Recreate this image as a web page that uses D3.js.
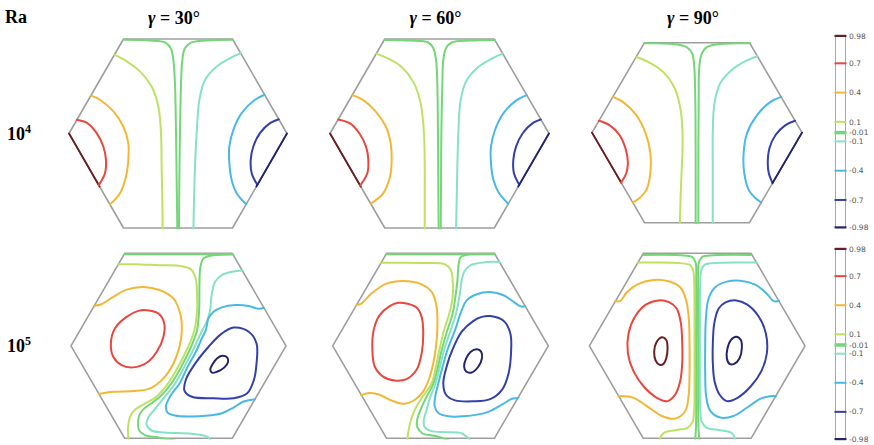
<!DOCTYPE html>
<html>
<head>
<meta charset="utf-8">
<script src="https://cdn.jsdelivr.net/npm/d3@7"></script>
<style>
  body { margin: 0; background: #fff; }
  svg { display: block; }
</style>
</head>
<body>
<svg id="chart" width="874" height="445"></svg>
<script>
// Isotherm levels (dimensionless temperature) and their legend labels
const levels = [0.98, 0.7, 0.4, 0.1, -0.01, -0.1, -0.4, -0.7, -0.98];
const levelLabels = ["0.98", "0.7", "0.4", "0.1", "-0.01", "-0.1", "-0.4", "-0.7", "-0.98"];
const angleLabels = ["30°", "60°", "90°"];
const raExponents = ["4", "5"];

// Isotherms for each case, points in unit-hexagon coordinates (side = 1, centre at 0,0)
const ra4_g30 = [
  { level: 0.98, pts: [[-1, 0], [-0.72, -0.485]] },
  { level: 0.7, pts: [[-0.93, 0.125], [-0.832, 0.095], [-0.746, 0.003], [-0.685, -0.119], [-0.661, -0.242], [-0.670, -0.364], [-0.728, -0.475]] },
  { level: 0.4, pts: [[-0.80, 0.349], [-0.716, 0.309], [-0.593, 0.202], [-0.502, 0.064], [-0.456, -0.089], [-0.456, -0.242], [-0.477, -0.394], [-0.532, -0.547], [-0.625, -0.650]] },
  { level: 0.1, pts: [[-0.583, 0.722], [-0.471, 0.661], [-0.349, 0.569], [-0.242, 0.431], [-0.180, 0.248], [-0.156, 0.003], [-0.150, -0.303], [-0.144, -0.609], [-0.141, -0.88]] },
  { level: -0.01, pts: [[-0.502, 0.859], [-0.257, 0.853], [-0.119, 0.835], [-0.067, 0.783], [-0.043, 0.676], [-0.028, 0.462], [-0.018, 0.003], [-0.012, -0.456], [-0.006, -0.88]] },
  { level: -0.01, pts: [[0.502, 0.859], [0.263, 0.853], [0.125, 0.835], [0.064, 0.783], [0.040, 0.676], [0.028, 0.462], [0.018, 0.003], [0.012, -0.456], [0.009, -0.88]] },
  { level: -0.1, pts: [[0.574, 0.737], [0.477, 0.691], [0.355, 0.615], [0.248, 0.492], [0.196, 0.309], [0.171, 0.003], [0.156, -0.303], [0.147, -0.609], [0.141, -0.88]] },
  { level: -0.4, pts: [[0.795, 0.355], [0.706, 0.309], [0.584, 0.187], [0.508, 0.034], [0.471, -0.119], [0.471, -0.272], [0.492, -0.425], [0.538, -0.547], [0.626, -0.648]] },
  { level: -0.7, pts: [[0.925, 0.131], [0.844, 0.095], [0.752, 0.003], [0.691, -0.119], [0.667, -0.242], [0.676, -0.364], [0.728, -0.472]] },
  { level: -0.98, pts: [[1, 0], [0.72, -0.485]] }
];

const ra4_g60 = [
  { level: 0.98, pts: [[-1, 0], [-0.72, -0.485]] },
  { level: 0.7, pts: [[-0.926, 0.129], [-0.817, 0.093], [-0.732, 0.002], [-0.671, -0.120], [-0.650, -0.242], [-0.659, -0.364], [-0.725, -0.477]] },
  { level: 0.4, pts: [[-0.797, 0.352], [-0.696, 0.306], [-0.580, 0.199], [-0.489, 0.062], [-0.446, -0.090], [-0.437, -0.242], [-0.452, -0.394], [-0.513, -0.547], [-0.628, -0.644]] },
  { level: 0.1, pts: [[-0.577, 0.732], [-0.467, 0.686], [-0.345, 0.610], [-0.239, 0.473], [-0.172, 0.276], [-0.142, 0.002], [-0.135, -0.303], [-0.135, -0.607], [-0.135, -0.88]] },
  { level: -0.01, pts: [[-0.498, 0.858], [-0.269, 0.852], [-0.102, 0.834], [-0.056, 0.782], [-0.032, 0.676], [-0.020, 0.458], [-0.014, 0.002], [-0.011, -0.455], [-0.008, -0.88]] },
  { level: -0.01, pts: [[0.507, 0.858], [0.279, 0.852], [0.111, 0.834], [0.059, 0.782], [0.035, 0.676], [0.026, 0.458], [0.017, 0.002], [0.014, -0.455], [0.011, -0.88]] },
  { level: -0.1, pts: [[0.577, 0.732], [0.476, 0.686], [0.355, 0.610], [0.248, 0.488], [0.193, 0.306], [0.172, 0.002], [0.163, -0.303], [0.157, -0.607], [0.151, -0.88]] },
  { level: -0.4, pts: [[0.797, 0.352], [0.705, 0.306], [0.583, 0.184], [0.507, 0.032], [0.470, -0.120], [0.470, -0.272], [0.492, -0.424], [0.543, -0.546], [0.628, -0.644]] },
  { level: -0.7, pts: [[0.925, 0.129], [0.857, 0.099], [0.760, 0.002], [0.699, -0.120], [0.674, -0.242], [0.680, -0.364], [0.729, -0.47]] },
  { level: -0.98, pts: [[1, 0], [0.72, -0.485]] }
];

const ra4_g90 = [
  { level: 0.98, pts: [[-1, 0], [-0.722, -0.481]] },
  { level: 0.7, pts: [[-0.934, 0.115], [-0.834, 0.073], [-0.738, -0.022], [-0.681, -0.150], [-0.658, -0.294], [-0.674, -0.390], [-0.723, -0.48]] },
  { level: 0.4, pts: [[-0.801, 0.345], [-0.706, 0.297], [-0.578, 0.169], [-0.489, -0.006], [-0.444, -0.198], [-0.444, -0.390], [-0.482, -0.550], [-0.546, -0.629], [-0.612, -0.672]] },
  { level: 0.1, pts: [[-0.580, 0.728], [-0.466, 0.681], [-0.323, 0.585], [-0.211, 0.425], [-0.153, 0.201], [-0.137, -0.070], [-0.147, -0.390], [-0.157, -0.645], [-0.163, -0.88]] },
  { level: -0.01, pts: [[-0.498, 0.86], [-0.259, 0.856], [-0.099, 0.824], [-0.045, 0.760], [-0.026, 0.633], [-0.016, 0.313], [-0.013, -0.166], [-0.013, -0.88]] },
  { level: -0.01, pts: [[0.508, 0.86], [0.252, 0.856], [0.093, 0.824], [0.045, 0.760], [0.022, 0.633], [0.016, 0.313], [0.013, -0.166], [0.013, -0.88]] },
  { level: -0.1, pts: [[0.576, 0.735], [0.476, 0.696], [0.348, 0.617], [0.220, 0.473], [0.166, 0.281], [0.150, -0.006], [0.150, -0.326], [0.150, -0.645], [0.150, -0.88]] },
  { level: -0.4, pts: [[0.801, 0.345], [0.700, 0.297], [0.572, 0.169], [0.476, -0.006], [0.444, -0.198], [0.450, -0.390], [0.492, -0.550], [0.556, -0.629], [0.612, -0.672]] },
  { level: -0.7, pts: [[0.934, 0.115], [0.843, 0.073], [0.748, -0.022], [0.690, -0.150], [0.674, -0.294], [0.684, -0.390], [0.72, -0.485]] },
  { level: -0.98, pts: [[1, 0], [0.72, -0.485]] }
];

const ra5_g30 = [
  { level: 0.7, closed: true, pts: [[-0.296, 0.333], [-0.187, 0.302], [-0.134, 0.215], [-0.140, 0.084], [-0.202, -0.056], [-0.296, -0.159], [-0.421, -0.202], [-0.530, -0.181], [-0.607, -0.103], [-0.629, 0.022], [-0.592, 0.162], [-0.483, 0.271], [-0.374, 0.327]] },
  { level: 0.4, pts: [[-0.785, 0.375], [-0.717, 0.389], [-0.607, 0.458], [-0.483, 0.526], [-0.327, 0.551], [-0.171, 0.520], [-0.047, 0.442], [0.016, 0.302], [0.031, 0.146], [0.009, -0.009], [-0.047, -0.165], [-0.140, -0.305], [-0.265, -0.399], [-0.421, -0.424], [-0.607, -0.430], [-0.745, -0.452]] },
  { level: 0.1, pts: [[-0.56, 0.764], [-0.407, 0.764], [-0.188, 0.755], [0.030, 0.746], [0.117, 0.715], [0.160, 0.631], [0.173, 0.459], [0.173, 0.335], [0.148, 0.148], [0.117, 0.054], [0.076, -0.039], [-0.002, -0.195], [-0.095, -0.350], [-0.204, -0.475], [-0.407, -0.600], [-0.450, -0.662], [-0.469, -0.771], [-0.463, -0.911]] },
  { level: -0.01, pts: [[-0.5, 0.858], [0.5, 0.858]] },
  { level: -0.01, pts: [[0.528, 0.858], [0.310, 0.845], [0.232, 0.817], [0.204, 0.740], [0.195, 0.584], [0.192, 0.335], [0.173, 0.148], [0.142, 0.054], [0.104, -0.039], [0.026, -0.195], [-0.064, -0.350], [-0.170, -0.475], [-0.332, -0.600], [-0.369, -0.662], [-0.375, -0.709], [-0.369, -0.787], [-0.313, -0.837], [-0.188, -0.858], [-0.033, -0.887]] },
  { level: -0.1, pts: [[0.60, 0.708], [0.497, 0.693], [0.403, 0.662], [0.341, 0.599], [0.310, 0.490], [0.294, 0.335], [0.263, 0.226], [0.223, 0.148], [0.179, 0.054], [0.136, -0.039], [0.055, -0.195], [-0.030, -0.350], [-0.126, -0.475], [-0.226, -0.600], [-0.282, -0.672], [-0.297, -0.740], [-0.251, -0.793], [-0.126, -0.812], [0.123, -0.824], [0.263, -0.849], [0.316, -0.905]] },
  { level: -0.4, pts: [[0.795, 0.356], [0.746, 0.346], [0.653, 0.372], [0.528, 0.381], [0.403, 0.360], [0.326, 0.319], [0.279, 0.257], [0.254, 0.148], [0.210, 0.054], [0.170, -0.039], [0.086, -0.195], [0.011, -0.350], [-0.079, -0.475], [-0.117, -0.569], [-0.101, -0.625], [-0.033, -0.653], [0.092, -0.662], [0.279, -0.653], [0.403, -0.631], [0.512, -0.578], [0.606, -0.522], [0.715, -0.500]] },
  { level: -0.7, closed: true, pts: [[0.514, 0.171], [0.654, 0.131], [0.726, 0.022], [0.726, -0.165], [0.701, -0.321], [0.639, -0.445], [0.514, -0.492], [0.327, -0.492], [0.125, -0.477], [0.056, -0.421], [0.069, -0.315], [0.156, -0.165], [0.280, -0.009], [0.396, 0.109]] },
  { level: -0.98, closed: true, pts: [[0.405, -0.093], [0.452, -0.109], [0.461, -0.150], [0.427, -0.202], [0.358, -0.243], [0.312, -0.252], [0.296, -0.221], [0.321, -0.165], [0.358, -0.118]] }
];

const ra5_g60 = [
  { level: 0.7, closed: true, pts: [[-0.315, 0.396], [-0.222, 0.358], [-0.175, 0.271], [-0.160, 0.116], [-0.175, -0.070], [-0.222, -0.225], [-0.315, -0.312], [-0.424, -0.325], [-0.533, -0.288], [-0.610, -0.194], [-0.632, -0.039], [-0.620, 0.147], [-0.564, 0.287], [-0.471, 0.371], [-0.393, 0.402]] },
  { level: 0.4, pts: [[-0.78, 0.385], [-0.734, 0.396], [-0.641, 0.489], [-0.502, 0.582], [-0.346, 0.607], [-0.191, 0.582], [-0.082, 0.504], [-0.036, 0.365], [-0.030, 0.147], [-0.042, -0.008], [-0.067, -0.163], [-0.109, -0.318], [-0.160, -0.427], [-0.237, -0.505], [-0.346, -0.543], [-0.471, -0.505], [-0.564, -0.458], [-0.657, -0.443], [-0.745, -0.465]] },
  { level: 0.1, pts: [[-0.56, 0.778], [-0.377, 0.778], [-0.129, 0.775], [0.042, 0.762], [0.095, 0.712], [0.113, 0.613], [0.113, 0.458], [0.082, 0.303], [0.033, 0.147], [-0.011, -0.039], [-0.042, -0.194], [-0.082, -0.350], [-0.175, -0.489], [-0.238, -0.598], [-0.278, -0.707], [-0.300, -0.815], [-0.309, -0.893]] },
  { level: -0.01, pts: [[-0.5, 0.858], [0.5, 0.858]] },
  { level: -0.01, pts: [[0.508, 0.861], [0.244, 0.852], [0.188, 0.830], [0.169, 0.768], [0.157, 0.613], [0.138, 0.458], [0.113, 0.303], [0.064, 0.147], [0.011, -0.039], [-0.023, -0.194], [-0.064, -0.350], [-0.135, -0.489], [-0.185, -0.598], [-0.216, -0.691], [-0.216, -0.759], [-0.166, -0.821], [-0.036, -0.846], [0.073, -0.884]] },
  { level: -0.1, pts: [[0.56, 0.784], [0.430, 0.784], [0.275, 0.753], [0.219, 0.691], [0.197, 0.613], [0.175, 0.458], [0.144, 0.303], [0.095, 0.147], [0.033, -0.039], [-0.005, -0.194], [-0.045, -0.350], [-0.098, -0.489], [-0.129, -0.598], [-0.154, -0.691], [-0.148, -0.759], [-0.092, -0.797], [0.057, -0.809], [0.197, -0.821], [0.275, -0.884]] },
  { level: -0.4, pts: [[0.787, 0.371], [0.741, 0.371], [0.679, 0.411], [0.585, 0.473], [0.461, 0.504], [0.337, 0.483], [0.244, 0.427], [0.197, 0.333], [0.135, 0.147], [0.064, -0.039], [0.020, -0.194], [-0.020, -0.350], [-0.051, -0.489], [-0.054, -0.567], [-0.020, -0.629], [0.073, -0.660], [0.213, -0.660], [0.430, -0.623], [0.585, -0.542], [0.663, -0.496], [0.747, -0.489]] },
  { level: -0.7, closed: true, pts: [[0.461, 0.278], [0.585, 0.234], [0.648, 0.116], [0.654, -0.070], [0.632, -0.256], [0.570, -0.412], [0.461, -0.499], [0.306, -0.520], [0.135, -0.511], [0.051, -0.458], [0.026, -0.350], [0.057, -0.194], [0.110, -0.039], [0.197, 0.132], [0.306, 0.234], [0.384, 0.271]] },
  { level: -0.98, closed: true, pts: [[0.337, -0.033], [0.377, -0.055], [0.384, -0.117], [0.352, -0.194], [0.290, -0.250], [0.238, -0.241], [0.219, -0.194], [0.238, -0.117], [0.281, -0.055]] }
];

const ra5_g90 = [
  { level: 0.98, closed: true, pts: [[-0.328, 0.079], [-0.287, 0.054], [-0.275, -0.023], [-0.287, -0.116], [-0.312, -0.169], [-0.349, -0.178], [-0.386, -0.138], [-0.399, -0.054], [-0.380, 0.029]] },
  { level: 0.7, closed: true, pts: [[-0.359, 0.425], [-0.257, 0.406], [-0.189, 0.347], [-0.151, 0.208], [-0.139, 0.023], [-0.139, -0.162], [-0.158, -0.332], [-0.204, -0.456], [-0.275, -0.518], [-0.374, -0.487], [-0.498, -0.379], [-0.590, -0.240], [-0.643, -0.070], [-0.637, 0.116], [-0.575, 0.277], [-0.473, 0.388]] },
  { level: 0.4, pts: [[-0.76, 0.419], [-0.714, 0.419], [-0.652, 0.502], [-0.544, 0.579], [-0.405, 0.616], [-0.266, 0.604], [-0.158, 0.548], [-0.102, 0.425], [-0.077, 0.239], [-0.071, -0.008], [-0.071, -0.255], [-0.080, -0.472], [-0.111, -0.610], [-0.204, -0.682], [-0.328, -0.657], [-0.467, -0.564], [-0.590, -0.487], [-0.683, -0.472], [-0.739, -0.472]] },
  { level: 0.1, pts: [[-0.56, 0.780], [-0.405, 0.780], [-0.158, 0.774], [-0.065, 0.755], [-0.037, 0.703], [-0.028, 0.579], [-0.025, 0.301], [-0.025, -0.008], [-0.025, -0.317], [-0.028, -0.595], [-0.043, -0.713], [-0.090, -0.768], [-0.204, -0.790], [-0.312, -0.817], [-0.349, -0.873]] },
  { level: -0.01, pts: [[-0.498, 0.851], [-0.158, 0.848], [-0.049, 0.833], [-0.015, 0.780], [-0.009, 0.610], [-0.009, -0.008], [-0.009, -0.626], [-0.012, -0.781], [-0.019, -0.873]] },
  { level: -0.01, pts: [[0.498, 0.851], [0.151, 0.848], [0.046, 0.833], [0.015, 0.780], [0.009, 0.610], [0.009, -0.008], [0.009, -0.626], [0.012, -0.781], [0.019, -0.873]] },
  { level: -0.1, pts: [[0.56, 0.780], [0.399, 0.780], [0.151, 0.774], [0.065, 0.755], [0.037, 0.703], [0.028, 0.579], [0.025, 0.301], [0.025, -0.008], [0.025, -0.317], [0.028, -0.595], [0.043, -0.713], [0.090, -0.768], [0.213, -0.790], [0.321, -0.817], [0.352, -0.873]] },
  { level: -0.4, pts: [[0.76, 0.419], [0.708, 0.419], [0.646, 0.487], [0.538, 0.573], [0.399, 0.610], [0.275, 0.601], [0.167, 0.548], [0.105, 0.440], [0.080, 0.239], [0.074, -0.008], [0.074, -0.255], [0.083, -0.472], [0.121, -0.610], [0.213, -0.672], [0.337, -0.657], [0.461, -0.580], [0.584, -0.497], [0.677, -0.472], [0.739, -0.472]] },
  { level: -0.7, closed: true, pts: [[0.362, 0.425], [0.461, 0.388], [0.569, 0.277], [0.637, 0.116], [0.646, -0.070], [0.594, -0.240], [0.498, -0.379], [0.374, -0.487], [0.275, -0.518], [0.207, -0.456], [0.161, -0.332], [0.145, -0.162], [0.145, 0.023], [0.158, 0.208], [0.198, 0.347], [0.263, 0.406]] },
  { level: -0.98, closed: true, pts: [[0.362, 0.085], [0.405, 0.054], [0.414, -0.023], [0.393, -0.116], [0.343, -0.169], [0.300, -0.169], [0.275, -0.116], [0.281, -0.023], [0.312, 0.054]] }
];

// Panel placement (pixels)
const panels = [
  { data: ra4_g30, cx: 178.0, cy: 133.5, sx: 109.0, hh: 94.5 },
  { data: ra4_g60, cx: 439.5, cy: 133.5, sx: 109.5, hh: 94.5 },
  { data: ra4_g90, cx: 697.0, cy: 132.7, sx: 105.0, hh: 90.0 },
  { data: ra5_g30, cx: 178.5, cy: 345.8, sx: 107.5, hh: 92.5 },
  { data: ra5_g60, cx: 440.5, cy: 345.8, sx: 107.8, hh: 92.5 },
  { data: ra5_g90, cx: 697.2, cy: 345.8, sx: 107.8, hh: 92.5 }
];

const palette = ["#6a1f22", "#e8463e", "#f3b736", "#bde262", "#74d677", "#86e2c4", "#4ab8e4", "#3340aa", "#22246e"];
const colour = d3.scaleOrdinal(levels, palette);

const svg = d3.select("#chart");
const H = Math.sqrt(3) / 2;
const hexUnit = [[-1, 0], [-0.5, H], [0.5, H], [1, 0], [0.5, -H], [-0.5, -H]];

panels.forEach((p, i) => {
  const x = d3.scaleLinear().domain([-1, 1]).range([p.cx - p.sx, p.cx + p.sx]);
  const y = d3.scaleLinear().domain([-H, H]).range([p.cy + p.hh, p.cy - p.hh]);
  const g = svg.append("g");

  const clipId = "hexclip" + i;
  g.append("clipPath").attr("id", clipId)
    .append("polygon")
    .attr("points", hexUnit.map(d => [x(d[0] * 1.012), y(d[1] * 1.012)].join(",")).join(" "));

  g.append("polygon")
    .attr("points", hexUnit.map(d => [x(d[0]), y(d[1])].join(",")).join(" "))
    .attr("fill", "none")
    .attr("stroke", "#9e9e9e")
    .attr("stroke-width", 1.6)
    .attr("stroke-linejoin", "round");

  const open = d3.line().x(d => x(d[0])).y(d => y(d[1])).curve(d3.curveCatmullRom.alpha(0.5));
  const closed = d3.line().x(d => x(d[0])).y(d => y(d[1])).curve(d3.curveCatmullRomClosed.alpha(0.5));

  g.append("g").attr("clip-path", `url(#${clipId})`)
    .selectAll("path")
    .data(p.data)
    .join("path")
    .attr("d", d => (d.closed ? closed : open)(d.pts))
    .attr("fill", "none")
    .attr("stroke", d => colour(d.level))
    .attr("stroke-width", 2.0)
    .attr("stroke-linecap", "round")
    .attr("stroke-linejoin", "round");
});

// Headings
const serif = "'Liberation Serif', 'Times New Roman', serif";
svg.append("text").attr("x", 5).attr("y", 23)
  .attr("font-family", serif).attr("font-weight", "bold").attr("font-size", 18)
  .text("Ra");

angleLabels.forEach((a, i) => {
  const t = svg.append("text")
    .attr("x", panels[i].cx - 4).attr("y", 24)
    .attr("text-anchor", "middle")
    .attr("font-family", serif).attr("font-weight", "bold").attr("font-size", 18);
  t.append("tspan").attr("font-style", "italic").text("γ");
  t.append("tspan").text(" = " + a);
});

raExponents.forEach((e, i) => {
  const t = svg.append("text")
    .attr("x", 7).attr("y", i === 0 ? 140 : 351.5)
    .attr("font-family", serif).attr("font-weight", "bold").attr("font-size", 18);
  t.append("tspan").text("10");
  t.append("tspan").attr("font-size", 12).attr("dy", -7).text(e);
});

// Legend bars, one per row
const bars = [{ top: 36, bottom: 227.3 }, { top: 249, bottom: 439 }];
bars.forEach(b => {
  const yb = d3.scaleLinear().domain([0.98, -0.98]).range([b.top, b.bottom]);
  const lg = svg.append("g");
  lg.append("rect")
    .attr("x", 835.5).attr("y", yb(0.98) - 1)
    .attr("width", 10).attr("height", yb(-0.98) - yb(0.98) + 2)
    .attr("fill", "#fff").attr("stroke", "#a8a8a8").attr("stroke-width", 1);
  lg.selectAll("line").data(levels).join("line")
    .attr("x1", 834.5).attr("x2", 846.5)
    .attr("y1", d => yb(d)).attr("y2", d => yb(d))
    .attr("stroke", d => colour(d))
    .attr("stroke-width", d => d === -0.01 ? 3.5 : 2);
  lg.selectAll("text").data(levels).join("text")
    .attr("x", 849).attr("y", d => yb(d))
    .attr("dy", "0.35em")
    .attr("font-family", "'DejaVu Sans', sans-serif")
    .attr("font-size", 7.5)
    .attr("fill", "#555")
    .text((d, i) => levelLabels[i]);
});
</script>
</body>
</html>
